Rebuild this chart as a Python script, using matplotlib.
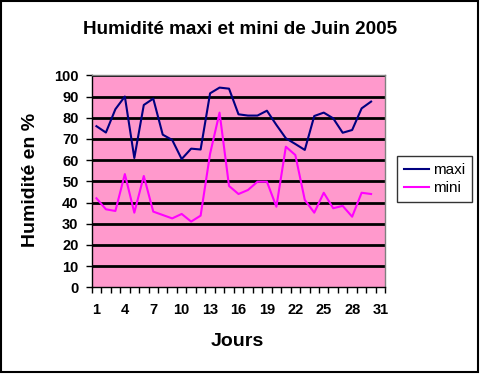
import matplotlib
matplotlib.use("Agg")
import matplotlib.pyplot as plt
from matplotlib.patches import Rectangle

days = list(range(1, 31))
maxi = [76, 73, 84, 90, 61, 86, 89, 72, 69.5, 60.5, 65.4, 65, 91.5, 94.2, 93.7,
        81.6, 81, 81, 83.3, 76.6, 70.3, 67.6, 64.8, 80.8, 82.4, 79.7, 72.9, 74.2, 84.4, 87.6]
mini = [42, 36.8, 36, 53.4, 35.2, 52.5, 35.7, 34.1, 32.5, 34.6, 31, 33.8, 63, 82.4, 47.8,
        44, 45.9, 49.8, 49.8, 38, 66.3, 62.4, 41.2, 35.2, 44.6, 37.3, 38.4, 33.3, 44.6, 44]
xtick_labels = ["1", "4", "7", "10", "13", "16", "19", "22", "25", "28", "31"]
yticks = list(range(0, 101, 10))

plt.rcParams['font.family'] = ['Liberation Sans', 'DejaVu Sans']

W, H = 481, 374
fig = plt.figure(figsize=(W / 100, H / 100), dpi=100)
fig.patch.set_facecolor("white")

# outer border
fig.patches.append(Rectangle((1 / W, 2 / H), 477.5 / W, 371 / H, transform=fig.transFigure,
                             fill=False, edgecolor="black", linewidth=1.5))

ax = fig.add_axes([91.7 / W, 1 - 287.3 / H, (385.3 - 91.7) / W, (287.3 - 75.3) / H])
ax.set_facecolor("#FF99CC")
ax.set_xlim(0.5, 31.5)
ax.set_ylim(0, 100)

for y in yticks[1:]:
    ax.axhline(y, color="black", linewidth=2, zorder=1)

ax.plot(days, maxi, color="#000080", linewidth=1.5, label="maxi", zorder=3)
ax.plot(days, mini, color="#FF00FF", linewidth=1.5, label="mini", zorder=3)

for side in ["top", "right"]:
    ax.spines[side].set_color("#808080")
    ax.spines[side].set_linewidth(1)
for side in ["left", "bottom"]:
    ax.spines[side].set_color("black")
    ax.spines[side].set_linewidth(1)

ax.set_yticks(yticks)
ax.set_yticklabels([str(v) for v in yticks], fontsize=10.5, fontweight="bold")
ax.set_xticks([x + 0.5 for x in range(0, 32)], minor=False)
ax.set_xticklabels([])
ax.set_xticks([int(s) for s in xtick_labels], minor=True)
ax.set_xticklabels(xtick_labels, minor=True, fontsize=10.5, fontweight="bold")
ax.tick_params(axis="x", which="major", length=4, width=1, direction="out", color="black")
ax.tick_params(axis="x", which="minor", length=0, pad=11)
ax.tick_params(axis="y", length=4, width=1, direction="out", color="black", pad=5.5)

fig.text(240 / W, 1 - 29 / H, "Humidité maxi et mini de Juin 2005", ha="center", va="center",
         fontsize=13.6, fontweight="bold")
fig.text(237 / W, 1 - 341 / H, "Jours", ha="center", va="center", fontsize=14, fontweight="bold")
fig.text(31 / W, 1 - 180 / H, "Humidité en %", ha="center", va="center", rotation=90,
         fontsize=14, fontweight="bold")

leg = fig.legend(loc="upper left", bbox_to_anchor=(396.7 / W, 1 - 156 / H), fontsize=11,
                 frameon=True, fancybox=False, handlelength=1.63, handletextpad=0.28,
                 borderpad=0.47, labelspacing=0.25, borderaxespad=0)
leg.get_frame().set_edgecolor("black")
leg.get_frame().set_linewidth(1)

fig.savefig("out.png", dpi=100)
